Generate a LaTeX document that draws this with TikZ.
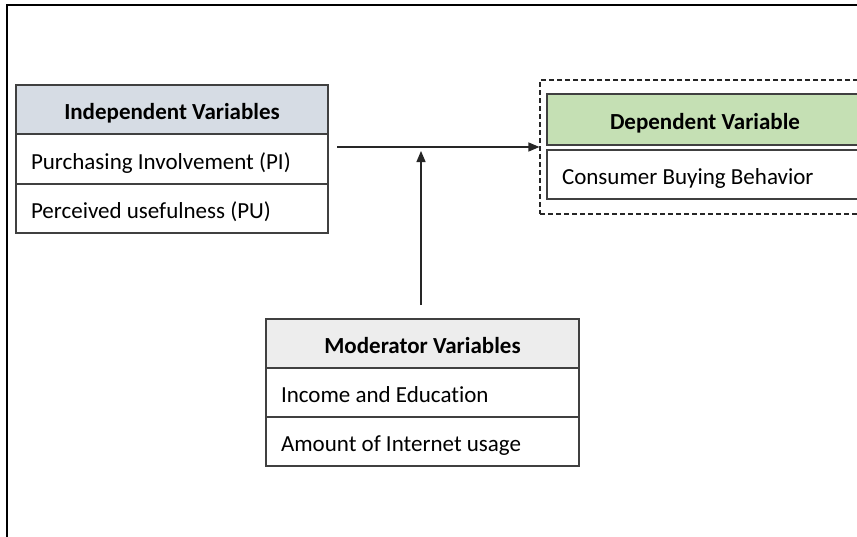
\documentclass[tikz,border=0pt]{standalone}
\usepackage{fontspec}
\setmainfont{Carlito}[Ligatures={NoCommon}]
\usetikzlibrary{arrows.meta}
\definecolor{indhead}{HTML}{D6DCE4}
\definecolor{dephead}{HTML}{C5E0B4}
\definecolor{modhead}{HTML}{EDEDED}
\definecolor{boxline}{HTML}{404040}
\begin{document}
\begin{tikzpicture}[x=1pt,y=-1pt,
  every node/.style={font=\fontsize{23}{27}\selectfont},
  cell/.style={draw=boxline, line width=1.3pt, rectangle, inner sep=0pt, text=black},
  headcell/.style={cell, font=\fontsize{23}{27}\selectfont\bfseries, align=center,
    text height=20pt, text depth=1pt},
  rowcell/.style={cell, fill=white, text width=#1, inner xsep=15pt, align=flush left,
    text height=21pt, text depth=1pt},
  conn/.style={line width=1.3pt, draw=black!85, -{Triangle[length=11pt,width=9pt]}}
]
\useasboundingbox (0,0) rectangle (857,536);
\clip (0,0) rectangle (857,536);
% outer frame
\draw[line width=1.2pt, black] (7,540) -- (7,5) -- (870,5);

% independent variables
\node[headcell, fill=indhead, minimum width=312pt, minimum height=49pt] (indh) at (172,109.5) {Independent Variables};
\node[rowcell=282pt, minimum height=50pt] (ind1) at (172,159) {Purchasing Involvement (PI)};
\node[rowcell=282pt, minimum height=49pt] (ind2) at (172,208.5) {Perceived usefulness (PU)};

% dependent variable
\node[draw=black!85, dash pattern=on 5pt off 3pt, line width=1.1pt, minimum width=340pt, minimum height=134pt, inner sep=0pt] (depbox) at (710,147) {};
\node[headcell, fill=dephead, minimum width=316pt, minimum height=51pt] (deph) at (705,119.5) {Dependent Variable};
\node[rowcell=286pt, minimum height=49pt] (dep1) at (705,174.5) {Consumer Buying Behavior};

% moderator variables
\node[headcell, fill=modhead, minimum width=313pt, minimum height=49pt] (modh) at (422.5,343.5) {Moderator Variables};
\node[rowcell=283pt, minimum height=49pt] (mod1) at (422.5,392.5) {Income and Education};
\node[rowcell=283pt, minimum height=49pt] (mod2) at (422.5,441.5) {Amount of Internet usage};

% connectors
\coordinate (hstart) at (337,147);
\coordinate (vstart) at (421,305);
\coordinate (vend) at (421,151);
\draw[conn] (hstart) -- (depbox.west);
\draw[conn] (vstart) -- (vend);
\end{tikzpicture}
\end{document}
